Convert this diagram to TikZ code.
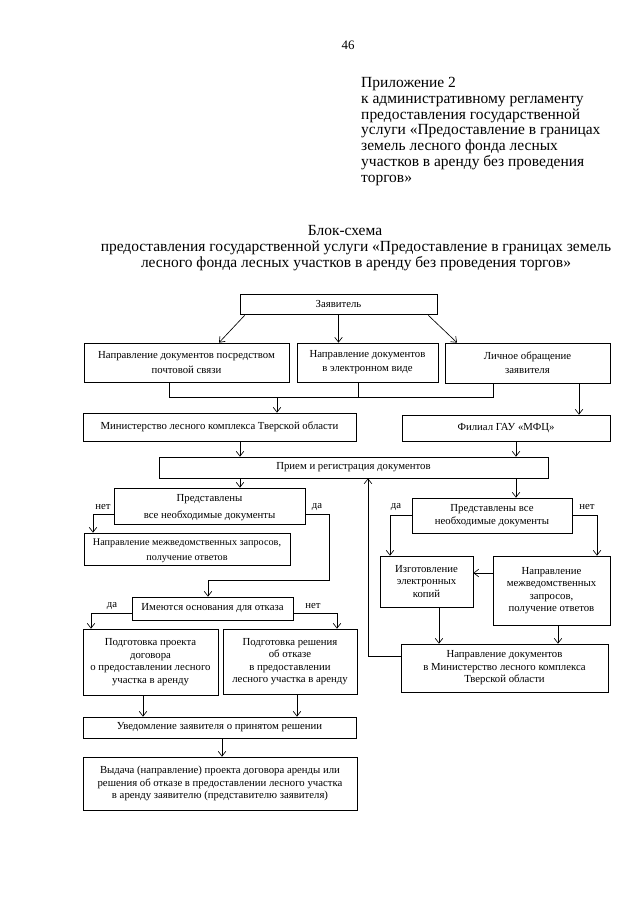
\documentclass[tikz,border=0pt]{standalone}
\usepackage{fontspec}
\setmainfont{Liberation Serif}
\usetikzlibrary{positioning}
\usetikzlibrary{arrows.meta}

\tikzset{
  box/.style 2 args={draw=black, line width=0.6pt, minimum width=#1*0.93pt, minimum height=#2*0.93pt,
    inner sep=1pt, align=center, font=\fontsize{10}{11.6}\selectfont},
  arr/.style={-{Straight Barb[length=4.5pt,width=7pt]}, line width=0.6pt},
  lbl/.style={font=\fontsize{10}{12}\selectfont, inner sep=0pt}
}

\begin{document}
\begin{tikzpicture}[x=0.93pt, y=-0.93pt]
          \useasboundingbox (0,0) rectangle (640,905);

          \node[font=\fontsize{12}{14}\selectfont, anchor=base] (page) at (348,49) {46};
          \node[anchor=north west, align=left, inner sep=0pt, font=\fontsize{14.4}{14.7}\selectfont] (app) at (361,77)
            {Приложение 2\\к административному регламенту\\предоставления государственной\\услуги «Предоставление в границах\\земель лесного фонда лесных\\участков в аренду без проведения\\торгов»};
          \node[anchor=north, inner sep=0pt, font=\fontsize{14.4}{14.6}\selectfont] (title) at (345,225) {Блок-схема};
          \node[anchor=north, align=center, inner sep=0pt, font=\fontsize{14.4}{14.6}\selectfont] (subtitle) at (356,241)
            {предоставления государственной услуги «Предоставление в границах земель\\лесного фонда лесных участков в аренду без проведения торгов»};

          \node[box={197}{20}] (zayav) at (338.5,304) {Заявитель};
          \node[box={205}{39}] (post) at (186.5,362.5) {Направление документов посредством\\[1.5pt]почтовой связи};
          \node[box={141}{39}] (elec) at (367.5,362.5) {Направление документов\\[1.5pt]в электронном виде};
          \node[box={165}{40}] (lich) at (527.5,363) {Личное обращение\\[1.5pt]заявителя};
          \node[box={273}{28}] (minles) at (219.5,427) {Министерство лесного комплекса Тверской области};
          \node[box={208}{26}] (mfc) at (506,428) {Филиал ГАУ «МФЦ»};
          \node[box={389}{21}] (priem) at (353.5,467.5) {Прием и регистрация документов};
          \node[box={191}{36}] (predL) at (209.5,506) {\rule{0pt}{10pt}Представлены\\[4pt]все необходимые документы};
          \node[box={206}{32}, font=\fontsize{9.5}{11.6}\selectfont] (mezhL) at (187,549) {\rule{0pt}{9pt}Направление межведомственных запросов,\\[2.5pt]получение ответов};
          \node[box={161}{23}] (otkaz) at (212.5,608.5) {Имеются основания для отказа};
          \node[box={135}{66}] (dogovor) at (150.5,662) {Подготовка проекта\\договора\\о предоставлении лесного\\участка в аренду};
          \node[box={134}{65}] (reshenie) at (290,661.5) {Подготовка решения\\об отказе\\в предоставлении\\лесного участка в аренду};
          \node[box={273}{21}] (uved) at (219.5,727.5) {Уведомление заявителя о принятом решении};
          \node[box={274}{53}] (vydacha) at (220,783.5) {Выдача (направление) проекта договора аренды или\\решения об отказе в предоставлении лесного участка\\в аренду заявителю (представителю заявителя)};
          \node[box={160}{35}] (predR) at (492,515.5) {Представлены все\\необходимые документы};
          \node[box={93}{51}] (kopii) at (426.5,581.5) {Изготовление\\электронных\\копий};
          \node[box={117}{69}] (mezhR) at (551.5,590.5) {Направление\\межведомственных\\запросов,\\получение ответов};
          \node[box={207}{48}] (naprmin) at (504.5,668) {Направление документов\\в Министерство лесного комплекса\\Тверской области};

          \coordinate (cA) at (240,0);
          \coordinate (cB) at (516,0);
          \coordinate (cC) at (579,0);
          \coordinate (busL) at (169,397);
          \coordinate (busM) at (358,397);
          \coordinate (busR) at (493,397);
          \coordinate (bus) at (277,397);

          \draw[arr] ([shift={(5,1)}]zayav.south west) -- ([shift={(32.5,0)}]post.north);
          \draw[arr] (zayav.south) -- (zayav.south |- elec.north);
          \draw[arr] ([shift={(-9,1)}]zayav.south east) -- ([shift={(-70.5,0)}]lich.north);

          \draw (post.south -| busL) -- (busL) -- (busR) -- (lich.south -| busR);
          \draw (elec.south -| busM) -- (busM);
          \draw[arr] (bus) -- (minles.north -| bus);
          \draw[arr] (lich.south -| cC) -- (mfc.north -| cC);
          \draw[arr] (minles.south -| cA) -- (priem.north -| cA);
          \draw[arr] (mfc.south -| cB) -- (priem.north -| cB);
          \draw[arr] (priem.south -| cA) -- (predL.north -| cA);
          \draw[arr] (priem.south -| cB) -- (predR.north -| cB);

          % left branch
          \coordinate (nL) at (93,514);
          \coordinate (dL) at (329,514);
          \coordinate (dL2) at (329,580);
          \coordinate (dL3) at (208,580);
          \draw[arr] (predL.west |- nL) -- (nL) -- (mezhL.north -| nL);
          \draw[arr] (predL.east |- dL) -- (dL) -- (dL2) -- (dL3) -- (otkaz.north -| dL3);
          \node[lbl] (netL) at (103,507) {нет};
          \node[lbl] (daL) at (317,507) {да};

          \coordinate (dO) at (91,613);
          \coordinate (nO) at (337,613);
          \draw[arr] (otkaz.west |- dO) -- (dO) -- (dogovor.north -| dO);
          \draw[arr] (otkaz.east |- nO) -- (nO) -- (reshenie.north -| nO);
          \node[lbl] (daO) at (112,606) {да};
          \node[lbl] (netO) at (313,606) {нет};

          \coordinate (c1) at (143,0);
          \coordinate (c2) at (297,0);
          \coordinate (c3) at (222,0);
          \draw[arr] (dogovor.south -| c1) -- (uved.north -| c1);
          \draw[arr] (reshenie.south -| c2) -- (uved.north -| c2);
          \draw[arr] (uved.south -| c3) -- (vydacha.north -| c3);

          % right branch
          \coordinate (dR) at (390,515);
          \coordinate (nR) at (597,515);
          \coordinate (hR) at (0,573);
          \draw[arr] (predR.west |- dR) -- (dR) -- (kopii.north -| dR);
          \draw[arr] (predR.east |- nR) -- (nR) -- (mezhR.north -| nR);
          \draw[arr] (mezhR.west |- hR) -- (kopii.east |- hR);
          \node[lbl] (daR) at (396,507) {да};
          \node[lbl] (netR) at (587,507) {нет};

          \coordinate (c4) at (439,0);
          \coordinate (c5) at (558,0);
          \coordinate (back) at (368,656);
          \draw[arr] (kopii.south -| c4) -- (naprmin.north -| c4);
          \draw[arr] (mezhR.south -| c5) -- (naprmin.north -| c5);
          \draw[arr] (naprmin.west |- back) -- (back) -- (priem.south -| back);
        \end{tikzpicture}
\end{document}
